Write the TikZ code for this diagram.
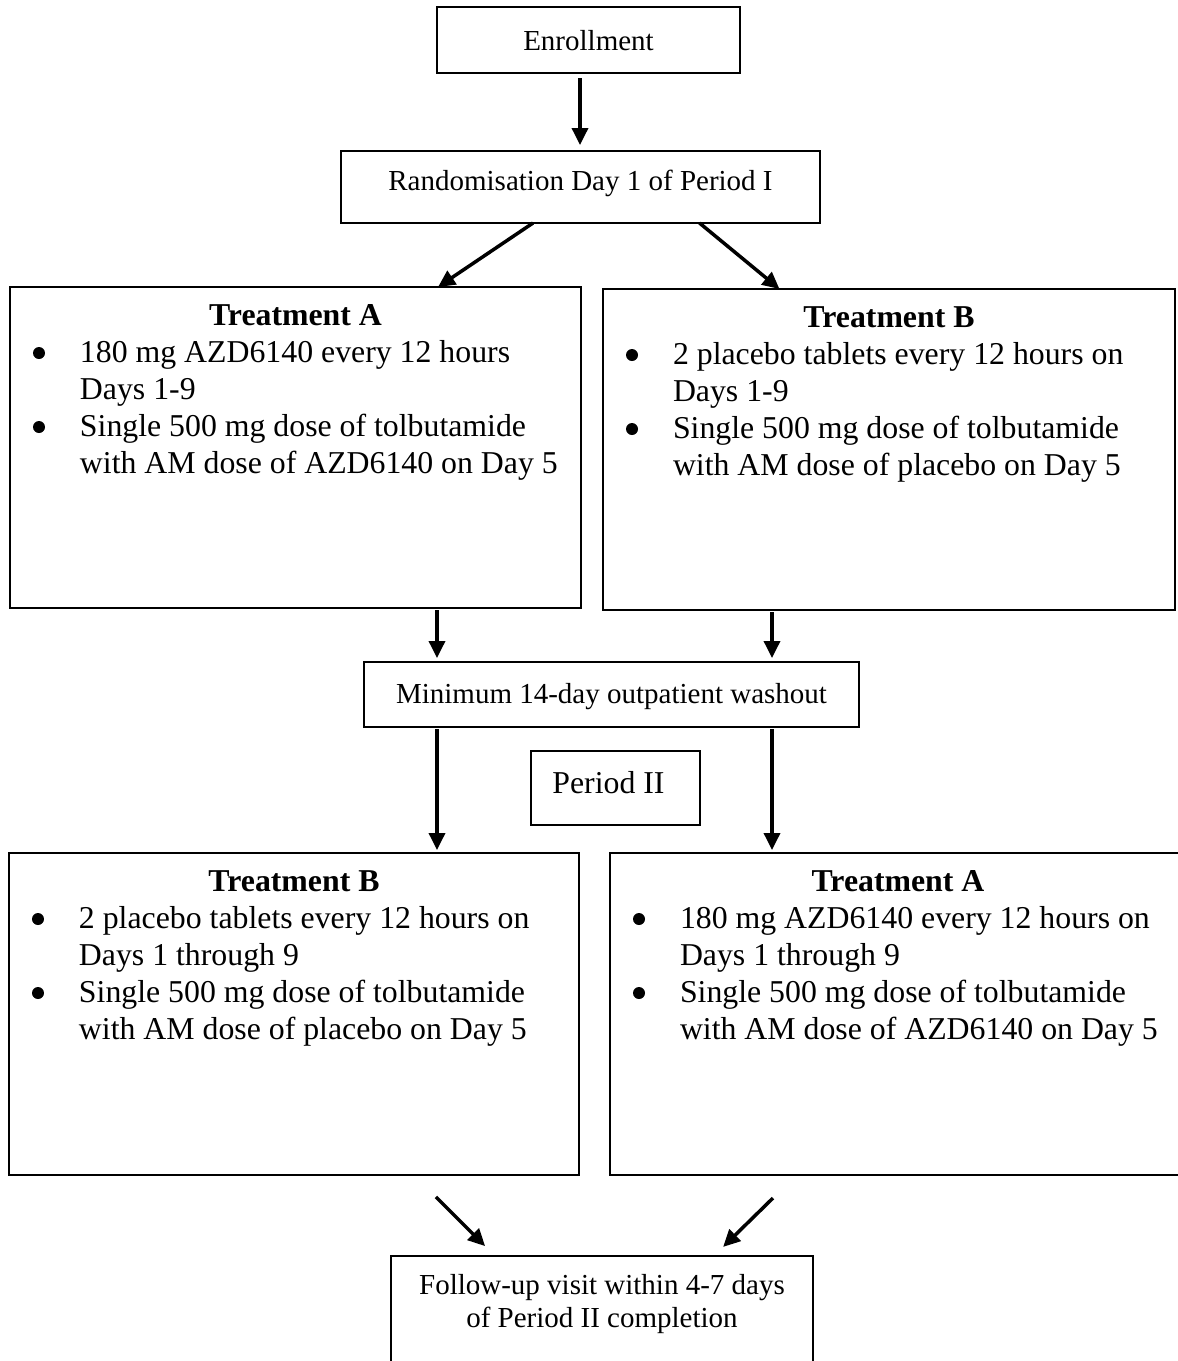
\documentclass[tikz,border=0pt]{standalone}
\usepackage{fontspec}
\setmainfont{Liberation Serif}
\usetikzlibrary{arrows.meta}
\newcommand{\fst}{\rule{0pt}{26pt}}
\newcommand{\bigf}{\fontsize{31.8pt}{37pt}\selectfont}
\newcommand{\smallf}{\fontsize{29pt}{33.4pt}\selectfont}
\newcommand{\bdot}{\tikz[baseline=-9pt]\fill (0,0) circle[radius=6pt];}
\newcommand{\bpar}[1]{\par\noindent\hangindent=70pt\hangafter=1\hspace*{23pt}\makebox[47pt][l]{\bdot}#1\par}
\newcommand{\tbox}[4]{\begin{minipage}[c][#2][t]{#1}\vspace*{#3}#4\end{minipage}}
\newcommand{\ttl}[1]{{\centering\fst\textbf{#1}\par}}
\begin{document}
\begin{tikzpicture}[x=1pt,y=-1pt,
  bx/.style={draw, line width=2pt, inner sep=0pt, outer sep=0pt, anchor=north west},
  arr/.style={line width=3.5pt, -{Triangle[length=17pt,width=16pt]}}]
\fill[white] (0,0) rectangle (1178,1361);
\useasboundingbox (0,0) rectangle (1178,1361);

\node[bx] (enroll) at (437,7) {\tbox{303pt}{66pt}{17pt}{\smallf\centering\fst Enrollment\par}};
\node[bx] (rand) at (341,151) {\tbox{479pt}{72pt}{13pt}{\smallf\centering\fst Randomisation Day 1 of Period I\par}};

\node[bx] (tA1) at (10,287) {\tbox{571pt}{321pt}{12pt}{\bigf\raggedright
  \ttl{Treatment A}
  \bpar{180 mg AZD6140 every 12 hours\newline Days 1-9}
  \bpar{Single 500 mg dose of tolbutamide\newline with AM dose of AZD6140 on Day 5}}};

\node[bx] (tB1) at (603,289) {\tbox{572pt}{321pt}{12pt}{\bigf\raggedright
  \ttl{Treatment B}
  \bpar{2 placebo tablets every 12 hours on\newline Days 1-9}
  \bpar{Single 500 mg dose of tolbutamide\newline with AM dose of placebo on Day 5}}};

\node[bx] (wash) at (364,662) {\tbox{495pt}{65pt}{15pt}{\smallf\centering\fst Minimum 14-day outpatient washout\par}};

\node[bx] (per2) at (531,751) {\tbox{169pt}{74pt}{16pt}{\bigf\centering\fst Period II\kern14pt\par}};

\node[bx] (tB2) at (9,853) {\tbox{570pt}{322pt}{12pt}{\bigf\raggedright
  \ttl{Treatment B}
  \bpar{2 placebo tablets every 12 hours on\newline Days 1 through 9}
  \bpar{Single 500 mg dose of tolbutamide\newline with AM dose of placebo on Day 5}}};

\node[bx] (tA2) at (610,853) {\tbox{576pt}{322pt}{12pt}{\bigf\raggedright
  \ttl{Treatment A}
  \bpar{180 mg AZD6140 every 12 hours on\newline Days 1 through 9}
  \bpar{Single 500 mg dose of tolbutamide\newline with AM dose of AZD6140 on Day 5}}};

\node[bx] (follow) at (391,1256) {\tbox{422pt}{120pt}{12pt}{\smallf\centering\fst Follow-up visit within 4-7 days\\ of Period II completion\par}};

\draw[arr, shorten <=5pt, shorten >=6pt] ([xshift=-8.5pt]enroll.south) -- ([xshift=-0.5pt]rand.north);
\draw[arr] ([xshift=-47.5pt]rand.south) -- ([xshift=142.5pt]tA1.north);
\draw[arr] ([xshift=119pt]rand.south) -- ([xshift=-109.5pt]tB1.north);
\draw[arr, shorten <=2pt, shorten >=4pt] ([xshift=141.5pt]tA1.south) -- ([xshift=-174.5pt]wash.north);
\draw[arr, shorten <=2pt, shorten >=4pt] ([xshift=-117pt]tB1.south) -- ([xshift=160.5pt]wash.north);
\draw[arr, shorten <=2pt, shorten >=3pt] ([xshift=-174.5pt]wash.south) -- ([xshift=143pt]tB2.north);
\draw[arr, shorten <=2pt, shorten >=3pt] ([xshift=160.5pt]wash.south) -- ([xshift=-126pt]tA2.north);
\draw[arr, shorten <=31pt, shorten >=14pt] ([xshift=120pt]tB2.south) -- ([xshift=-107pt]follow.north);
\draw[arr, shorten <=33pt, shorten >=13pt] ([xshift=-101.5pt]tA2.south) -- ([xshift=111.8pt]follow.north);
\end{tikzpicture}
\end{document}
